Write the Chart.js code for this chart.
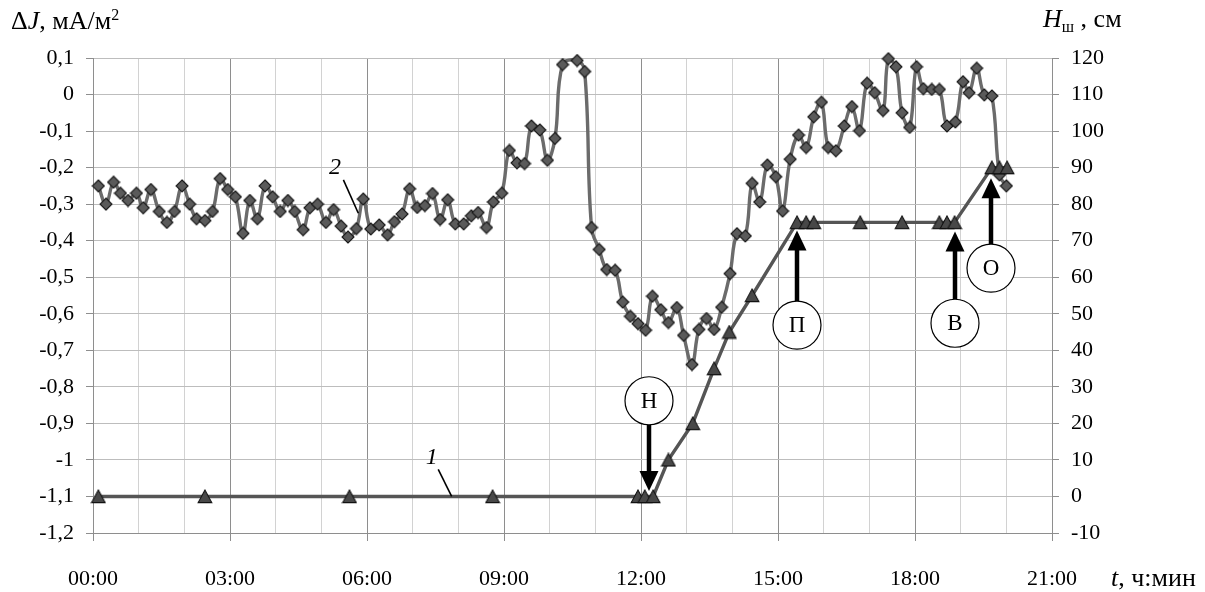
<!DOCTYPE html>
<html>
<head>
<meta charset="utf-8">
<script src="https://cdn.jsdelivr.net/npm/chart.js@4"></script>
<style>
  html, body { margin: 0; padding: 0; background: #fff; }
  canvas { display: block; }
</style>
</head>
<body>
<canvas id="chart" width="1205" height="592"></canvas>
<script>
// Series 2: current density change ΔJ, mA/m² (left axis); time in minutes from 00:00
const currentTimes = [
  7, 17, 27, 36, 46, 57, 66, 76, 87, 97, 107, 117, 127, 136, 147, 157, 167, 177, 187, 197,
  206, 216, 226, 236, 246, 256, 265, 276, 285, 295, 306, 316, 326, 335, 346, 355, 365, 376, 387, 396,
  406, 416, 426, 436, 446, 456, 466, 476, 487, 497, 506, 517, 526, 537, 547, 557, 567, 576, 587, 597,
  607, 617, 636, 646, 655, 665, 675, 686, 696, 706, 716, 726, 735, 746, 756, 767, 776, 787, 796, 806,
  816, 826, 837, 846, 857, 866, 876, 886, 897, 906, 916, 927, 937, 947, 957, 966, 976, 987, 997, 1007,
  1017, 1027, 1038, 1045, 1055, 1063, 1073, 1082, 1091, 1102, 1112, 1122, 1133, 1143, 1151, 1161, 1171, 1181, 1191, 1200
];
const currentValues = [
  -0.25, -0.30, -0.24, -0.27, -0.29, -0.27, -0.31, -0.26, -0.32, -0.35, -0.32, -0.25, -0.30, -0.34, -0.345, -0.32, -0.23, -0.26, -0.28, -0.38,
  -0.29, -0.34, -0.25, -0.28, -0.32, -0.29, -0.32, -0.37, -0.31, -0.30, -0.35, -0.315, -0.36, -0.39, -0.367, -0.286, -0.368, -0.357, -0.384, -0.348,
  -0.327, -0.258, -0.309, -0.304, -0.271, -0.342, -0.288, -0.354, -0.354, -0.332, -0.323, -0.364, -0.294, -0.27, -0.153, -0.187, -0.189, -0.086, -0.097, -0.18,
  -0.12, 0.082, 0.093, 0.063, -0.364, -0.424, -0.479, -0.481, -0.568, -0.607, -0.627, -0.645, -0.552, -0.589, -0.624, -0.583, -0.659, -0.739, -0.643, -0.613,
  -0.643, -0.582, -0.49, -0.381, -0.387, -0.243, -0.294, -0.193, -0.225, -0.319, -0.177, -0.111, -0.145, -0.061, -0.021, -0.145, -0.154, -0.086, -0.033, -0.099,
  0.031, 0.005, -0.044, 0.098, 0.076, -0.05, -0.09, 0.076, 0.016, 0.014, 0.014, -0.086, -0.075, 0.035, 0.005, 0.072, -0.001, -0.004, -0.22, -0.25
];

// Series 1: level H_ш, cm (right axis)
const levelTimes = [7, 147, 337, 525, 716, 725, 736, 756, 788, 816, 836, 866, 925, 937, 947, 1008, 1063, 1112, 1122, 1132, 1181, 1191, 1201];
const levelValues = [0, 0, 0, 0, 0, 0, 0, 10, 20, 35, 45, 55, 75, 75, 75, 75, 75, 75, 75, 75, 90, 90, 90];

// Event markers: letter, time (min), level at arrow tip, level at circle centre
const eventLabels = ['Н', 'П', 'В', 'О'];
const eventTimes = [731, 925, 1132, 1180];
const eventTipLevels = [1.5, 72.8, 72.5, 87.1];
const eventCircleLevels = [26.2, 46.9, 47.4, 62.5];

// Axis ranges
const timeMax = 21 * 60;
const currentMin = -1.2, currentMax = 0.1;
const levelMin = -10, levelMax = 120;

const SERIF = '"Liberation Serif", "DejaVu Serif", "Times New Roman", serif';
const TICK_SIZE = 22;
const TITLE_SIZE = 26;

function fmtTime(m) {
  const h = Math.round(m / 60);
  return String(h).padStart(2, '0') + ':00';
}
function fmtComma(v) {
  const r = Math.round(v * 10) / 10;
  return String(r === 0 ? 0 : r).replace('.', ',');
}

// Marker glyphs
function diamondGlyph() {
  const c = document.createElement('canvas');
  c.width = 14; c.height = 14;
  const g = c.getContext('2d');
  g.beginPath();
  g.moveTo(7, 1.0); g.lineTo(13, 7); g.lineTo(7, 13); g.lineTo(1.0, 7);
  g.closePath();
  g.fillStyle = '#5a5a5a'; g.fill();
  g.lineWidth = 1.1; g.strokeStyle = '#161616'; g.stroke();
  return c;
}
function triangleGlyph() {
  const c = document.createElement('canvas');
  c.width = 16; c.height = 15;
  const g = c.getContext('2d');
  g.beginPath();
  g.moveTo(8, 1.0); g.lineTo(14.8, 13.6); g.lineTo(1.2, 13.6);
  g.closePath();
  g.fillStyle = '#484848'; g.fill();
  g.lineWidth = 1.1; g.strokeStyle = '#121212'; g.stroke();
  return c;
}

const overlay = {
  id: 'overlay',
  afterDatasetsDraw(chart) {
    const { ctx, scales } = chart;
    const x = scales.x, y = scales.y, y1 = scales.y1;
    ctx.save();

    // Curve labels with leader lines
    ctx.fillStyle = '#000';
    ctx.strokeStyle = '#000';
    ctx.lineWidth = 1.6;
    ctx.font = 'italic 24px ' + SERIF;
    ctx.textAlign = 'center';
    ctx.textBaseline = 'middle';
    ctx.fillText('2', x.getPixelForValue(318), y.getPixelForValue(-0.2));
    ctx.beginPath();
    ctx.moveTo(x.getPixelForValue(329), y.getPixelForValue(-0.2335));
    ctx.lineTo(x.getPixelForValue(348.6), y.getPixelForValue(-0.3248));
    ctx.stroke();
    ctx.fillText('1', x.getPixelForValue(445), y1.getPixelForValue(10.5));
    ctx.beginPath();
    ctx.moveTo(x.getPixelForValue(453.6), y1.getPixelForValue(7.4));
    ctx.lineTo(x.getPixelForValue(471.2), y1.getPixelForValue(0.05));
    ctx.stroke();

    // Event circles with arrows
    const R = 24, headW = 19, headH = 20;
    ctx.font = '23px ' + SERIF;
    eventLabels.forEach((lab, i) => {
      const px = Math.round(x.getPixelForValue(eventTimes[i]));
      const tipY = y1.getPixelForValue(eventTipLevels[i]);
      const cy = y1.getPixelForValue(eventCircleLevels[i]);
      const dir = tipY > cy ? 1 : -1;
      const startY = cy + dir * R;
      const baseY = tipY - dir * headH;
      ctx.lineWidth = 4.5;
      ctx.beginPath();
      ctx.moveTo(px, startY);
      ctx.lineTo(px, baseY + dir * 2);
      ctx.stroke();
      ctx.beginPath();
      ctx.moveTo(px, tipY);
      ctx.lineTo(px - headW / 2, baseY);
      ctx.lineTo(px + headW / 2, baseY);
      ctx.closePath();
      ctx.fill();
      ctx.beginPath();
      ctx.arc(px, cy, R, 0, Math.PI * 2);
      ctx.fillStyle = '#fff';
      ctx.fill();
      ctx.lineWidth = 1.2;
      ctx.stroke();
      ctx.fillStyle = '#000';
      ctx.fillText(lab, px, cy + 1);
    });
    ctx.restore();
  },
  afterDraw(chart) {
    const { ctx } = chart;
    ctx.save();
    ctx.fillStyle = '#000';
    ctx.textBaseline = 'alphabetic';
    ctx.textAlign = 'left';
    const norm = TITLE_SIZE + 'px ' + SERIF;
    const ital = 'italic ' + TITLE_SIZE + 'px ' + SERIF;
    const small = '16px ' + SERIF;
    function run(parts, x0, base) {
      let xx = x0;
      parts.forEach(([t, f, dy]) => {
        ctx.font = f;
        ctx.fillText(t, xx, base + (dy || 0));
        xx += ctx.measureText(t).width;
      });
    }
    // Left axis title
    run([['Δ', norm], ['J', ital], [', мА/м', norm], ['2', small, -9]], 11, 29);
    // Right axis title
    run([['H', ital], ['ш', small, 5], [' , см', norm]], 1043, 27);
    // Time axis title
    run([['t', ital], [', ч:мин', norm]], 1111, 586);
    ctx.restore();
  }
};

const currentData = currentTimes.map((t, i) => ({ x: t, y: currentValues[i] }));
const levelData = levelTimes.map((t, i) => ({ x: t, y: levelValues[i] }));

const chartArea = { left: 93, right: 1052, top: 58, bottom: 533 };

new Chart(document.getElementById('chart'), {
  type: 'line',
  data: {
    datasets: [
      {
        label: '1',
        data: levelData,
        yAxisID: 'y1',
        borderColor: '#555555',
        borderWidth: 3.4,
        tension: 0,
        pointStyle: triangleGlyph(),
        pointRadius: 7,
        clip: false
      },
      {
        label: '2',
        data: currentData,
        yAxisID: 'y',
        borderColor: '#6b6b6b',
        borderWidth: 3.4,
        tension: 0.4,
        pointStyle: diamondGlyph(),
        pointRadius: 6,
        clip: false
      }
    ]
  },
  options: {
    responsive: false,
    animation: false,
    devicePixelRatio: 1,
    events: [],
    layout: { padding: { top: chartArea.top, left: 0, right: 0, bottom: 0 } },
    plugins: { legend: { display: false }, tooltip: { enabled: false } },
    scales: {
      x: {
        type: 'linear',
        min: 0,
        max: timeMax,
        afterFit(s) { s.height = 592 - chartArea.bottom; },
        ticks: {
          stepSize: 60,
          autoSkip: false,
          maxRotation: 0,
          padding: 25,
          color: '#000',
          font: { family: SERIF, size: TICK_SIZE },
          callback: v => (v % 180 === 0 ? fmtTime(v) : '')
        },
        grid: {
          color: c => (c.tick && c.tick.value % 180 === 0 ? '#8e8e8e' : '#d2d2d2'),
          tickColor: c => (c.tick && c.tick.value % 180 === 0 ? '#8e8e8e' : 'rgba(0,0,0,0)'),
          tickLength: 8,
          lineWidth: 1
        },
        border: { color: '#8e8e8e', width: 1 }
      },
      y: {
        position: 'left',
        min: currentMin,
        max: currentMax,
        afterFit(s) { s.width = chartArea.left; },
        ticks: {
          stepSize: 0.1,
          padding: 12,
          color: '#000',
          font: { family: SERIF, size: TICK_SIZE },
          callback: v => fmtComma(v)
        },
        grid: { color: '#bdbdbd', tickColor: '#8e8e8e', tickLength: 7, lineWidth: 1 },
        border: { color: '#8e8e8e', width: 1 }
      },
      y1: {
        position: 'right',
        min: levelMin,
        max: levelMax,
        afterFit(s) { s.width = 1205 - chartArea.right; },
        ticks: {
          stepSize: 10,
          padding: 12,
          color: '#000',
          font: { family: SERIF, size: TICK_SIZE },
          callback: v => String(v)
        },
        grid: { drawOnChartArea: false, tickColor: '#8e8e8e', tickLength: 7 },
        border: { color: '#8e8e8e', width: 1 }
      }
    }
  },
  plugins: [overlay]
});
</script>
</body>
</html>
